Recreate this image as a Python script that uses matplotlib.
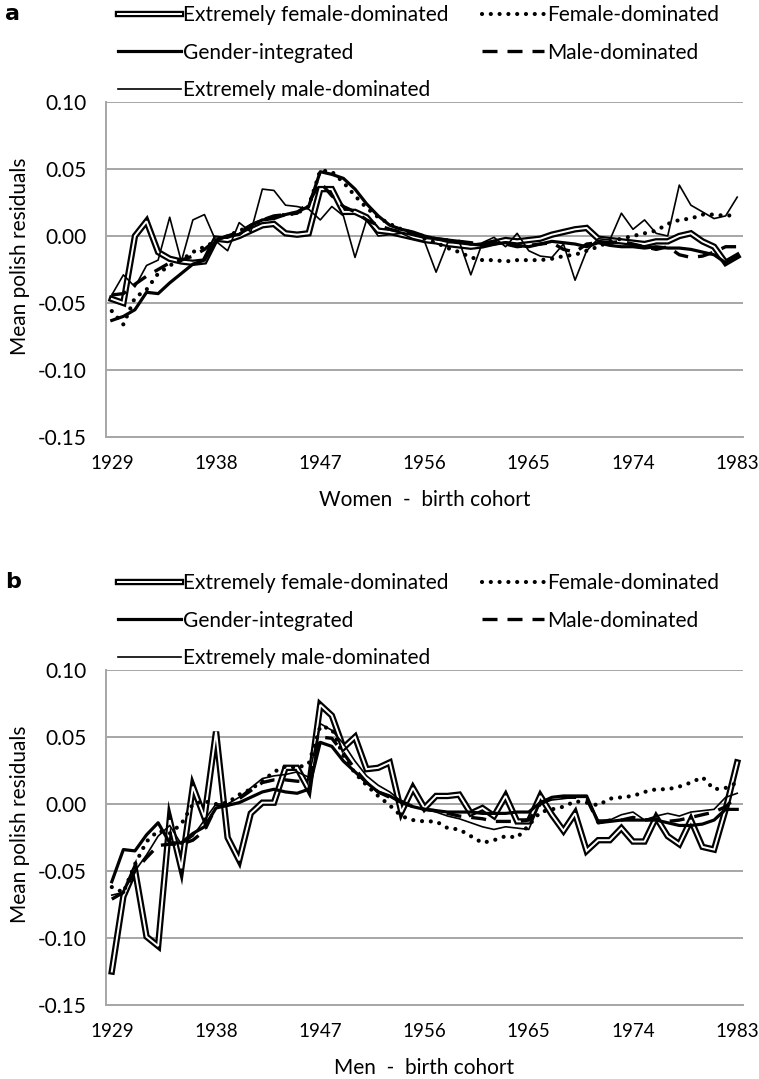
import numpy as np
import matplotlib
matplotlib.use("Agg")
import matplotlib.pyplot as plt
import matplotlib.patheffects as pe
from matplotlib.ticker import FormatStrFormatter

plt.rcParams["font.family"] = ["Lato", "DejaVu Sans"]

years = list(range(1929, 1984))
tick_years = [1929, 1938, 1947, 1956, 1965, 1974, 1983]
labels = ["Extremely female-dominated", "Female-dominated", "Gender-integrated",
          "Male-dominated", "Extremely male-dominated"]

# Women (panel a)
efd_a = [-0.047, -0.050, 0.000, 0.011, -0.012, -0.017, -0.019, -0.020, -0.019, -0.002,
         -0.003, 0.000, 0.004, 0.008, 0.009, 0.002, 0.001, 0.002, 0.035, 0.035,
         0.018, 0.018, 0.014, 0.004, 0.003, 0.001, -0.001, -0.003, -0.004, -0.006,
         -0.007, -0.008, -0.007, -0.005, -0.003, -0.004, -0.003, -0.002, 0.001, 0.003,
         0.005, 0.006, -0.002, -0.003, -0.004, -0.005, -0.006, -0.004, -0.004, 0.000,
         0.002, -0.004, -0.008, -0.020, -0.015]
fd_a = [-0.056, -0.066, -0.046, -0.040, -0.028, -0.022, -0.018, -0.012, -0.008, -0.004,
        0.000, 0.004, 0.007, 0.012, 0.014, 0.016, 0.017, 0.022, 0.049, 0.048,
        0.040, 0.030, 0.021, 0.014, 0.009, 0.005, 0.002, -0.002, -0.005, -0.009,
        -0.012, -0.016, -0.018, -0.018, -0.019, -0.018, -0.018, -0.018, -0.017, -0.015,
        -0.014, -0.011, -0.008, -0.004, -0.002, 0.000, 0.002, 0.004, 0.009, 0.012,
        0.013, 0.016, 0.016, 0.015, 0.016]
gi_a = [-0.063, -0.060, -0.055, -0.042, -0.043, -0.035, -0.028, -0.021, -0.018, -0.003,
        0.000, 0.001, 0.008, 0.012, 0.013, 0.016, 0.018, 0.022, 0.048, 0.046,
        0.043, 0.035, 0.024, 0.015, 0.008, 0.005, 0.003, 0.000, -0.002, -0.003,
        -0.004, -0.006, -0.007, -0.006, -0.005, -0.007, -0.008, -0.006, -0.004, -0.005,
        -0.006, -0.008, -0.005, -0.007, -0.008, -0.008, -0.009, -0.008, -0.009, -0.009,
        -0.010, -0.012, -0.014, -0.020, -0.015]
md_a = [-0.044, -0.043, -0.036, -0.030, -0.025, -0.020, -0.018, -0.015, -0.010, -0.003,
        0.000, 0.003, 0.008, 0.012, 0.015, 0.016, 0.017, 0.025, 0.040, 0.030,
        0.022, 0.018, 0.012, 0.008, 0.005, 0.003, 0.002, 0.000, -0.002, -0.003,
        -0.004, -0.005, -0.006, -0.004, -0.006, -0.008, -0.007, -0.006, -0.005, -0.010,
        -0.012, -0.006, -0.005, -0.005, -0.004, -0.006, -0.008, -0.010, -0.008, -0.014,
        -0.016, -0.015, -0.012, -0.008, -0.008]
emd_a = [-0.044, -0.029, -0.038, -0.022, -0.018, 0.014, -0.019, 0.012, 0.016, -0.004,
         -0.011, 0.010, 0.003, 0.035, 0.034, 0.023, 0.022, 0.020, 0.012, 0.022,
         0.015, -0.016, 0.012, 0.000, 0.001, 0.002, -0.002, -0.004, -0.027, -0.005,
         -0.004, -0.029, -0.005, -0.001, -0.008, 0.002, -0.011, -0.015, -0.016, -0.006,
         -0.033, -0.011, -0.002, -0.003, 0.017, 0.005, 0.012, 0.002, 0.000, 0.038,
         0.023, 0.018, 0.013, 0.015, 0.029]

# Men (panel b)
efd_b = [-0.125, -0.069, -0.049, -0.099, -0.106, -0.012, -0.048, 0.013, -0.010, 0.054,
         -0.025, -0.042, -0.007, 0.001, 0.001, 0.027, 0.027, 0.011, 0.074, 0.066,
         0.042, 0.050, 0.026, 0.027, 0.031, -0.006, 0.012, -0.003, 0.006, 0.006,
         0.007, -0.007, -0.003, -0.009, 0.006, -0.013, -0.013, 0.006, -0.008, -0.020,
         -0.007, -0.035, -0.027, -0.027, -0.018, -0.028, -0.028, -0.010, -0.024, -0.030,
         -0.012, -0.032, -0.034, -0.004, 0.031]
fd_b = [-0.062, -0.066, -0.045, -0.028, -0.020, -0.022, -0.015, 0.000, 0.002, 0.000,
        0.001, 0.007, 0.011, 0.017, 0.024, 0.028, 0.027, 0.030, 0.058, 0.056,
        0.036, 0.023, 0.014, 0.006, -0.001, -0.009, -0.012, -0.013, -0.013, -0.018,
        -0.019, -0.024, -0.029, -0.027, -0.024, -0.025, -0.016, -0.006, -0.004, -0.002,
        0.002, 0.001, -0.001, 0.004, 0.005, 0.006, 0.009, 0.011, 0.011, 0.013,
        0.016, 0.020, 0.011, 0.012, 0.016]
gi_b = [-0.058, -0.034, -0.035, -0.023, -0.014, -0.029, -0.029, -0.022, -0.017, -0.003,
        -0.001, 0.001, 0.005, 0.009, 0.011, 0.009, 0.008, 0.011, 0.046, 0.043,
        0.032, 0.024, 0.016, 0.009, 0.006, 0.001, -0.002, -0.004, -0.005, -0.006,
        -0.006, -0.006, -0.007, -0.007, -0.007, -0.006, -0.006, 0.001, 0.005, 0.006,
        0.006, 0.006, -0.014, -0.013, -0.012, -0.012, -0.012, -0.012, -0.014, -0.016,
        -0.016, -0.015, -0.012, -0.004, -0.004]
md_b = [-0.071, -0.066, -0.050, -0.040, -0.031, -0.030, -0.030, -0.027, -0.020, -0.002,
        -0.001, 0.004, 0.010, 0.016, 0.018, 0.018, 0.017, 0.017, 0.050, 0.049,
        0.038, 0.026, 0.016, 0.009, 0.005, 0.002, -0.002, -0.004, -0.005, -0.007,
        -0.009, -0.010, -0.011, -0.013, -0.013, -0.013, -0.012, 0.000, 0.004, 0.005,
        0.005, 0.004, -0.014, -0.012, -0.012, -0.010, -0.012, -0.011, -0.013, -0.012,
        -0.010, -0.008, -0.006, -0.002, 0.006]
emd_b = [-0.068, -0.066, -0.050, -0.038, -0.024, -0.016, -0.030, -0.024, -0.012, 0.000,
         0.000, 0.005, 0.012, 0.019, 0.021, 0.022, 0.024, 0.020, 0.060, 0.055,
         0.045, 0.032, 0.021, 0.014, 0.009, 0.002, -0.002, -0.004, -0.006, -0.009,
         -0.011, -0.014, -0.017, -0.019, -0.017, -0.018, -0.019, 0.001, 0.003, 0.004,
         0.005, 0.005, -0.012, -0.012, -0.008, -0.006, -0.012, -0.009, -0.007, -0.009,
         -0.006, -0.005, -0.004, 0.005, 0.008]

W, H = 759, 1079
fig = plt.figure(figsize=(W / 100, H / 100), dpi=100)
grey = "#a6a6a6"
fs = 15


def draw_panel(top_px, series, xlab, letter):
    ax = fig.add_axes([106 / W, 1 - (top_px + 335) / H, 637 / W, 335 / H])
    efd, fd, gi, md, emd = series
    h1, = ax.plot(years, efd, color="white", lw=1.4, solid_joinstyle="miter",
                  path_effects=[pe.Stroke(linewidth=4.6, foreground="black"), pe.Normal()])
    h2, = ax.plot(years, fd, color="black", lw=3.0, ls=(0, (0.01, 2.1)),
                  dash_capstyle="round")
    h3, = ax.plot(years, gi, color="black", lw=2.3)
    h4, = ax.plot(years, md, color="black", lw=2.4, ls=(0, (4.5, 3)))
    h5, = ax.plot(years, emd, color="black", lw=1.2)

    ax.set_xlim(1928.5, 1983.5)
    ax.set_ylim(-0.15, 0.10)
    ax.set_yticks(np.arange(-0.15, 0.101, 0.05))
    ax.yaxis.set_major_formatter(FormatStrFormatter("%.2f"))
    ax.set_xticks(tick_years)
    ax.tick_params(length=0, labelsize=fs)
    ax.tick_params(axis="y", pad=14)
    ax.tick_params(axis="x", pad=13, labelsize=13.5)
    ax.grid(axis="y", color=grey, lw=1.4)
    ax.set_axisbelow(True)
    for s in ["top", "right"]:
        ax.spines[s].set_visible(False)
    for s in ["left", "bottom"]:
        ax.spines[s].set_color(grey)
        ax.spines[s].set_linewidth(1.4)

    ax.set_xlabel(xlab, fontsize=fs, labelpad=13)
    ax.set_ylabel("Mean polish residuals", fontsize=fs)
    ax.yaxis.set_label_coords(-0.12, 0.54)

    fig.legend([h1, h3, h5, h2, h4],
               [labels[0], labels[2], labels[4], labels[1], labels[3]],
               ncol=2, loc="upper left",
               bbox_to_anchor=(118 / W, 1 - (top_px - 97) / H),
               frameon=False, fontsize=fs, handlelength=3.0,
               handletextpad=0.12, columnspacing=1.6, labelspacing=0.85,
               borderpad=0, borderaxespad=0)
    fig.text(5 / W, 1 - (top_px - 88) / H, letter, fontsize=16, fontweight="bold",
             family="DejaVu Sans", va="center")
    return ax


draw_panel(102, [efd_a, fd_a, gi_a, md_a, emd_a], "Women  -  birth cohort", "a")
draw_panel(670, [efd_b, fd_b, gi_b, md_b, emd_b], "Men  -  birth cohort", "b")

fig.savefig("out.png", dpi=100)
